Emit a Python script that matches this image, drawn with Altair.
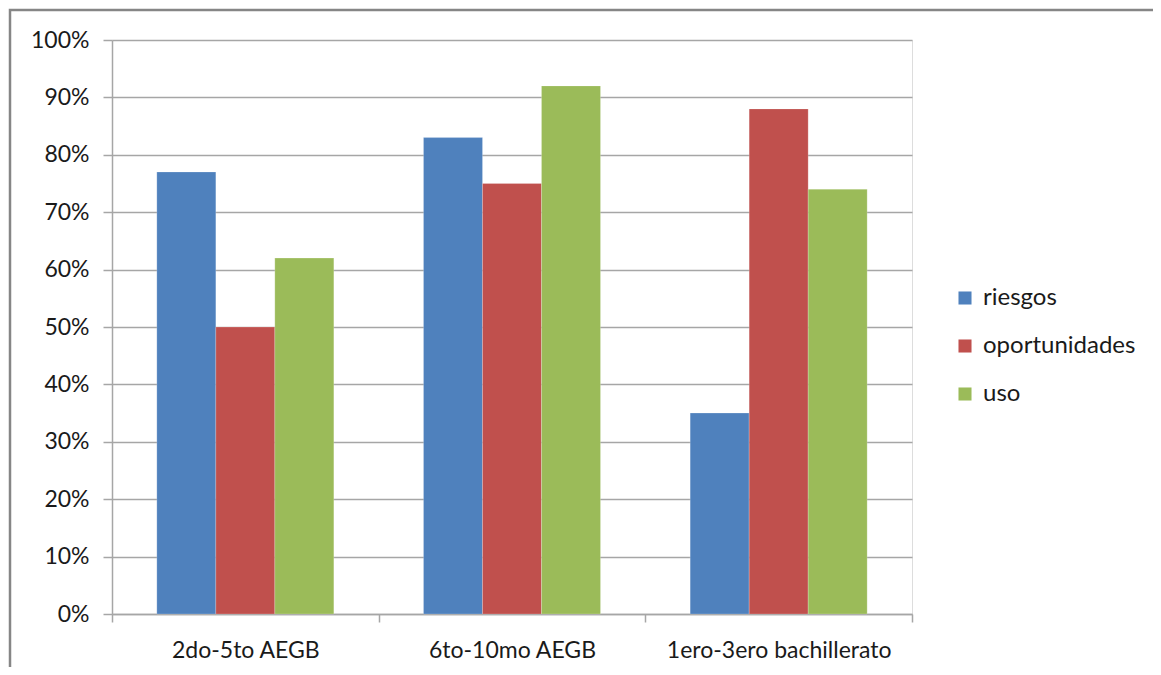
import altair as alt
import pandas as pd

categories = ["2do-5to AEGB", "6to-10mo AEGB", "1ero-3ero bachillerato"]
series = ["riesgos", "oportunidades", "uso"]
riesgos = [0.77, 0.83, 0.35]
oportunidades = [0.50, 0.75, 0.88]
uso = [0.62, 0.92, 0.74]
colors = ["#4F81BD", "#C0504D", "#9BBB59"]

rows = []
for i, c in enumerate(categories):
    for s, vals in zip(series, [riesgos, oportunidades, uso]):
        rows.append({"cat": c, "serie": s, "valor": vals[i]})
df = pd.DataFrame(rows)

FONT = "Lato"
TXT = "#1a1a1a"
GRID = "#A6A6A6"

bars = alt.Chart(df).mark_bar(stroke="white", strokeWidth=0.5, strokeOpacity=0.4).encode(
    x=alt.X("cat:N", sort=categories, title=None,
            scale=alt.Scale(paddingInner=0, paddingOuter=0),
            axis=alt.Axis(labelAngle=0, tickBand="extent", tickSize=8, tickColor=GRID,
                          domainColor=GRID, domainWidth=1.5, tickWidth=1.5,
                          labelFont=FONT, labelFontSize=23, labelColor=TXT,
                          labelPadding=17, labelLimit=0, grid=False)),
    xOffset=alt.XOffset("serie:N", sort=series,
                        scale=alt.Scale(paddingInner=0, paddingOuter=0.76)),
    y=alt.Y("valor:Q", title=None,
            scale=alt.Scale(domain=[0, 1], nice=False),
            axis=alt.Axis(format=".0%", values=[i / 10 for i in range(11)],
                          tickSize=9, tickColor=GRID, tickWidth=1.5,
                          domainColor=GRID, domainWidth=1.5,
                          gridColor=GRID, gridWidth=1.5,
                          labelFont=FONT, labelFontSize=23, labelColor=TXT,
                          labelPadding=14)),
    color=alt.Color("serie:N", sort=series, title=None,
                    scale=alt.Scale(domain=series, range=colors),
                    legend=alt.Legend(orient="none", legendX=841, legendY=246,
                                      symbolType="square", symbolSize=170,
                                      symbolStrokeWidth=0, labelFont=FONT,
                                      labelFontSize=24, labelColor=TXT,
                                      rowPadding=24, labelOffset=6, labelLimit=0)),
)

border = alt.Chart(pd.DataFrame({"a": [0]})).mark_rect(
    fill=None, stroke="#868686", strokeWidth=2.5
).encode(
    x=alt.value(-102), x2=alt.value(1060), y=alt.value(-30), y2=alt.value(650)
)

chart = alt.layer(bars, border).properties(
    width=800, height=574,
    padding={"left": 104, "top": 32, "right": 241, "bottom": 53},
    autosize=alt.AutoSizeParams(type="none"),
).configure_view(stroke=None).configure(background="white")

chart.save("out.html", embed_options={"renderer": "svg", "actions": False})
